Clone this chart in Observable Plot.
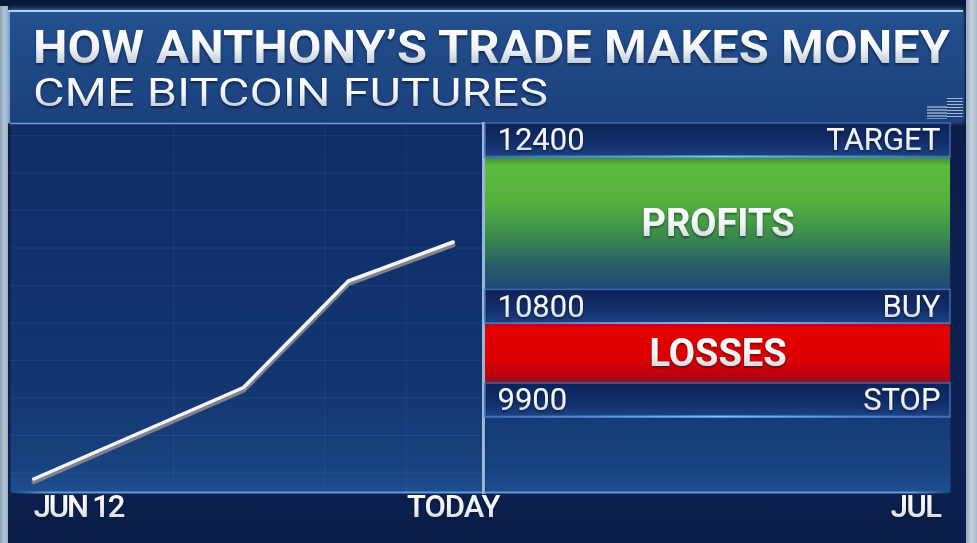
<!DOCTYPE html>
<html>
<head>
<meta charset="utf-8">
<script src="https://cdn.jsdelivr.net/npm/d3@7"></script>
<script src="https://cdn.jsdelivr.net/npm/@observablehq/plot@0.6"></script>
<style>
  html, body { margin: 0; padding: 0; background: #0a1c45; }
  #stage { position: relative; width: 977px; height: 543px; overflow: hidden;
    background: linear-gradient(180deg, #081838 0%, #0b1f4a 40%, #0c2252 85%, #0a1d47 100%);
    font-family: Roboto, "Noto Sans", sans-serif; }
  #stripL { position: absolute; left: 0; top: 6px; width: 8px; height: 537px;
    background: linear-gradient(90deg, #8aa2b8 0%, #b6c7d5 55%, #97adc0 100%); }
  #stripR { position: absolute; left: 966px; top: 0; width: 11px; height: 543px;
    background: linear-gradient(90deg, #93a9bd 0%, #c4d1dc 50%, #a9bccb 100%); }
  #titlePanel { position: absolute; left: 8px; top: 10px; width: 955px; height: 111px;
    background: linear-gradient(180deg, #24508e 0%, #1f4885 45%, #1b417c 100%);
    border-top: 2px solid #a6d4f6;
    box-shadow: inset 2px 0 0 #7aa8d6, 0 -1px 5px rgba(140, 200, 255, 0.55); }
  .bars { position: absolute;
    background: repeating-linear-gradient(180deg, rgba(190, 210, 232, 0.55) 0 1.5px, transparent 1.5px 3px); }
  .b1 { left: 919px; top: 94px; width: 20px; height: 13px; }
  .b2 { left: 939px; top: 86px; width: 16px; height: 21px; background:
    repeating-linear-gradient(180deg, rgba(205, 222, 240, 0.75) 0 1.5px, transparent 1.5px 3px); }
  .t { position: absolute; left: 33px; white-space: nowrap; transform-origin: 0 0;
    background: linear-gradient(180deg, #ffffff 0%, #f1f4f7 55%, #bfc8d3 100%);
    -webkit-background-clip: text; background-clip: text; color: transparent;
    filter: drop-shadow(0 2px 1px rgba(0, 8, 30, 0.55)); }
  #title { top: 29px; font-weight: 700; font-size: 46px; line-height: 36px; }
  #subtitle { top: 78px; font-weight: 400; font-size: 39px; line-height: 30px; }
  .chart { position: absolute; top: 120px; }
</style>
</head>
<body>
<div id="stage">
  <svg width="0" height="0" style="position:absolute">
    <defs>
      <linearGradient id="panelGrad" x1="0" y1="0" x2="0" y2="1">
        <stop offset="0" stop-color="#0f2c66"/>
        <stop offset="0.7" stop-color="#123571"/>
        <stop offset="0.93" stop-color="#18427f"/>
        <stop offset="1" stop-color="#1f4f90"/>
      </linearGradient>
      <linearGradient id="greenGrad" x1="0" y1="0" x2="0" y2="1">
        <stop offset="0" stop-color="#3f8c35"/>
        <stop offset="0.07" stop-color="#5cbc3f"/>
        <stop offset="0.35" stop-color="#55b03f"/>
        <stop offset="0.6" stop-color="#3a8a4c"/>
        <stop offset="0.82" stop-color="#275c68"/>
        <stop offset="1" stop-color="#1e4a78"/>
      </linearGradient>
      <linearGradient id="redGrad" x1="0" y1="0" x2="0" y2="1">
        <stop offset="0" stop-color="#b0000e"/>
        <stop offset="0.08" stop-color="#e40000"/>
        <stop offset="0.6" stop-color="#dc0000"/>
        <stop offset="0.85" stop-color="#bf000d"/>
        <stop offset="1" stop-color="#8c1428"/>
      </linearGradient>
      <linearGradient id="rowGrad" x1="0" y1="0" x2="0" y2="1">
        <stop offset="0" stop-color="#0c2358"/>
        <stop offset="0.6" stop-color="#122f6a"/>
        <stop offset="1" stop-color="#1c4384"/>
      </linearGradient>
      <linearGradient id="rowGlow" gradientUnits="userSpaceOnUse" x1="2" y1="0" x2="467" y2="0">
        <stop offset="0" stop-color="#5fb6ff" stop-opacity="0.2"/>
        <stop offset="0.5" stop-color="#7cc8ff" stop-opacity="1"/>
        <stop offset="1" stop-color="#5fb6ff" stop-opacity="0.2"/>
      </linearGradient>
      <linearGradient id="baseGlowL" gradientUnits="userSpaceOnUse" x1="10" y1="0" x2="483" y2="0">
        <stop offset="0" stop-color="#6aa6e2" stop-opacity="0"/>
        <stop offset="0.07" stop-color="#6aa6e2" stop-opacity="0.9"/>
        <stop offset="1" stop-color="#6aa6e2" stop-opacity="0.9"/>
      </linearGradient>
      <linearGradient id="baseGlowR" gradientUnits="userSpaceOnUse" x1="2" y1="0" x2="467" y2="0">
        <stop offset="0" stop-color="#6aa6e2" stop-opacity="0.9"/>
        <stop offset="0.92" stop-color="#6aa6e2" stop-opacity="0.9"/>
        <stop offset="1" stop-color="#6aa6e2" stop-opacity="0"/>
      </linearGradient>
      <linearGradient id="txtGrad" x1="0" y1="0" x2="0" y2="1">
        <stop offset="0" stop-color="#ffffff"/>
        <stop offset="0.55" stop-color="#f1f4f7"/>
        <stop offset="1" stop-color="#c3cbd5"/>
      </linearGradient>
      <filter id="tsh" x="-10%" y="-30%" width="120%" height="170%">
        <feDropShadow dx="0" dy="1.5" stdDeviation="1" flood-color="#000820" flood-opacity="0.6"/>
      </filter>
      <filter id="lsh" x="-10%" y="-20%" width="120%" height="140%">
        <feGaussianBlur stdDeviation="3"/>
      </filter>
    </defs>
  </svg>
  <div id="stripL"></div>
  <div id="stripR"></div>
  <div id="titlePanel"><div class="bars b1"></div><div class="bars b2"></div></div>
  <div id="title" class="t"></div>
  <div id="subtitle" class="t"></div>
  <div id="leftChart" class="chart" style="left:0"></div>
  <div id="rightChart" class="chart" style="left:483px"></div>
</div>
<script>
// ---- text ----
const titleText = "HOW ANTHONY’S TRADE MAKES MONEY";
const subtitleText = "CME BITCOIN FUTURES";

// ---- price line (days since Jun 12; TODAY = day 9) ----
const days = [0, 4.5, 6.75, 9];
const prices = [9210, 9820, 10530, 10790];

// ---- trade levels ----
const levelValues = [12400, 10800, 9900];
const levelNames = ["TARGET", "BUY", "STOP"];
const zoneNames = ["PROFITS", "LOSSES"];
const zoneFrom = [12400, 10800];
const zoneTo = [10800, 9900];

// ---- axis labels ----
const axisLabels = ["JUN 12", "TODAY", "JUL"];
const axisDays = [0, 9];

// ---- faint grid ----
const gridPrices = [9250, 9500, 9750, 10000, 10250, 10500, 10750, 11000, 11250, 11500];
const gridDays = [3, 6.25, 8];

document.getElementById("title").textContent = titleText;
document.getElementById("subtitle").textContent = subtitleText;

const series = days.map((d, i) => ({day: d, price: prices[i]}));
const levels = levelValues.map((v, i) => ({value: v, name: levelNames[i]}));
const zones = zoneNames.map((n, i) => ({name: n, from: zoneFrom[i], to: zoneTo[i]}));

const font = "Roboto";
const textStyle = {fill: "url(#txtGrad)", fontFamily: font};

const left = Plot.plot({
  width: 483, height: 423,
  marginTop: 3, marginBottom: 51, marginLeft: 10, marginRight: 0,
  style: {background: "transparent", overflow: "visible", fontFamily: font},
  x: {domain: [-0.5, 9.65], axis: null},
  y: {domain: [9120, 11580], axis: null},
  marks: [
    Plot.frame({fill: "url(#panelGrad)"}),
    Plot.gridY(gridPrices, {stroke: "#6a9ae0", strokeOpacity: 0.13}),
    Plot.gridX(gridDays, {stroke: "#6a9ae0", strokeOpacity: 0.1}),
    Plot.line(series, {x: "day", y: "price", stroke: "#020b22", strokeOpacity: 0.6, strokeWidth: 9, dx: 3, dy: 8, ariaLabel: "line-shadow"}),
    Plot.line(series, {x: "day", y: "price", stroke: "#7c838e", strokeWidth: 4.5, dy: 3, strokeLinejoin: "round"}),
    Plot.line(series, {x: "day", y: "price", stroke: "#f6f6f6", strokeWidth: 3.5, strokeLinejoin: "round"}),
    Plot.frame({anchor: "top", stroke: "#6d9bd2", strokeWidth: 1.5}),
    Plot.frame({anchor: "bottom", stroke: "url(#baseGlowL)", strokeWidth: 2}),
    Plot.frame({anchor: "right", stroke: "#98b6d6", strokeWidth: 3}),
    Plot.text([axisDays[0]], {x: d => d, text: () => axisLabels[0], frameAnchor: "bottom", textAnchor: "start", dy: 24,
      fontSize: 31, fontWeight: 500, ...textStyle}),
    Plot.text([axisDays[1]], {x: d => d, text: () => axisLabels[1], frameAnchor: "bottom", textAnchor: "middle", dy: 24,
      fontSize: 31, fontWeight: 500, ...textStyle})
  ]
});

const right = Plot.plot({
  width: 494, height: 423,
  marginTop: 3, marginBottom: 51, marginLeft: 2, marginRight: 27,
  style: {background: "transparent", overflow: "visible", fontFamily: font},
  y: {domain: [9900, 12400], range: [280, 20], axis: null},
  marks: [
    Plot.frame({fill: "url(#panelGrad)"}),
    Plot.rect(zones.filter(z => z.name === "PROFITS"), {y1: "from", y2: "to", insetTop: 17, insetBottom: 17, fill: "url(#greenGrad)"}),
    Plot.rect(zones.filter(z => z.name === "LOSSES"), {y1: "from", y2: "to", insetTop: 17, insetBottom: 17, fill: "url(#redGrad)"}),
    Plot.rect(levels, {y1: "value", y2: "value", insetTop: -17, insetBottom: -17, fill: "url(#rowGrad)", stroke: "#3f67aa", strokeWidth: 1.5}),
    Plot.ruleY(levels, {y: "value", dy: 16, stroke: "url(#rowGlow)", strokeWidth: 2}),
    Plot.frame({anchor: "bottom", stroke: "url(#baseGlowR)", strokeWidth: 2}),
    Plot.text(levels, {y: "value", text: d => String(d.value), frameAnchor: "left", textAnchor: "start", dx: 12,
      fontSize: 31, fontWeight: 400, ...textStyle}),
    Plot.text(levels, {y: "value", text: "name", frameAnchor: "right", textAnchor: "end", dx: -10,
      fontSize: 31, fontWeight: 400, ...textStyle}),
    Plot.text(zones, {y: d => (d.from + d.to) / 2, text: "name", frameAnchor: "middle",
      fontSize: 38, fontWeight: 700, ...textStyle}),
    Plot.text([axisLabels[2]], {text: d => d, frameAnchor: "bottom-right", textAnchor: "end", dx: -10, dy: 24,
      fontSize: 31, fontWeight: 500, ...textStyle})
  ]
});

document.getElementById("leftChart").appendChild(left);
document.getElementById("rightChart").appendChild(right);

// finishing touches: text shadows, condensed bottom labels, blurred line shadow
const labelSpacing = {"JUN 12": -2.2, "TODAY": -1, "JUL": -1.5};
for (const svg of [left, right]) {
  d3.select(svg).selectAll("text").attr("filter", "url(#tsh)")
    .each(function () {
      const s = labelSpacing[this.textContent];
      if (s !== undefined) this.setAttribute("letter-spacing", s);
    });
}
d3.select(left).selectAll('g[aria-label="line-shadow"] path').attr("filter", "url(#lsh)");

// fit the heading lines to their width in the reference
function fit(id, target) {
  const el = document.getElementById(id);
  el.style.transform = "none";
  const w = el.getBoundingClientRect().width;
  if (w > 0) el.style.transform = `scaleX(${target / w})`;
}
function fitAll() { fit("title", 917); fit("subtitle", 515); }
fitAll();
if (document.fonts && document.fonts.ready) document.fonts.ready.then(fitAll);
</script>
</body>
</html>
